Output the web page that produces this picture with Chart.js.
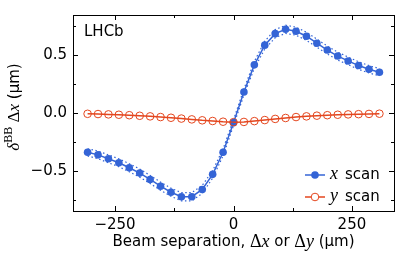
<!DOCTYPE html>
<html>
<head>
<meta charset="utf-8">
<script src="https://cdn.jsdelivr.net/npm/chart.js@4"></script>
<style>
  html, body { margin: 0; padding: 0; background: #fff; }
  #wrap { width: 407px; height: 258px; }
</style>
</head>
<body>
<div id="wrap"><canvas id="grafico" width="407" height="258"></canvas></div>
<script>
// beam separation (um)
const separacao = [-308, -286, -264, -242, -220, -198, -176, -154, -132, -110, -88, -66, -44, -22, 0,
  22, 44, 66, 88, 110, 132, 154, 176, 198, 220, 242, 264, 286, 308];

// x scan: delta^BB delta x (um)
const xScan = [-0.336, -0.358, -0.392, -0.426, -0.469, -0.515, -0.570, -0.628, -0.680, -0.719, -0.719, -0.656, -0.526, -0.336, -0.080,
  0.184, 0.418, 0.588, 0.687, 0.725, 0.708, 0.665, 0.605, 0.546, 0.494, 0.452, 0.412, 0.380, 0.355];
// dotted band around the x scan
const xScanAlto = [-0.305, -0.325, -0.358, -0.392, -0.434, -0.480, -0.535, -0.593, -0.645, -0.684, -0.684, -0.621, -0.494, -0.306, -0.055,
  0.210, 0.448, 0.622, 0.722, 0.760, 0.743, 0.700, 0.640, 0.580, 0.528, 0.485, 0.445, 0.412, 0.386];
const xScanBaixo = [-0.367, -0.391, -0.426, -0.460, -0.504, -0.550, -0.605, -0.663, -0.715, -0.754, -0.754, -0.691, -0.558, -0.366, -0.105,
  0.158, 0.388, 0.554, 0.652, 0.690, 0.673, 0.630, 0.570, 0.512, 0.460, 0.419, 0.379, 0.348, 0.324];

// y scan
const yScan = [-0.004, -0.006, -0.009, -0.012, -0.016, -0.021, -0.026, -0.032, -0.038, -0.045, -0.052, -0.060, -0.066, -0.072, -0.076,
  -0.074, -0.067, -0.058, -0.048, -0.040, -0.032, -0.026, -0.020, -0.016, -0.012, -0.009, -0.007, -0.005, -0.003];

const xTicks = [-250, 0, 250];
const xMinor = [-125, 125];
const yTicks = [-0.5, 0, 0.5];
const yMinor = [-0.75, -0.25, 0.25, 0.75];

const azul = '#3464d6';
const vermelho = '#e4461e';
const sans = '"DejaVu Sans"';
const serif = '"Liberation Serif"';

function pontos(vals) {
  return separacao.map((s, i) => ({ x: s, y: vals[i] }));
}

function fmt(v, casas) {
  return v.toFixed(casas).replace('-', '\u2212');
}

// draw a row of text pieces with different fonts, centred on (cx, cy)
function desenhaTexto(ctx, partes, cx, cy) {
  let total = 0;
  partes.forEach(p => { ctx.font = p.f; p.w = ctx.measureText(p.t).width; total += p.w; });
  let x = cx - total / 2;
  ctx.textAlign = 'left';
  ctx.textBaseline = 'middle';
  partes.forEach(p => {
    ctx.font = p.f;
    ctx.fillText(p.t, x, cy + (p.dy || 0));
    x += p.w;
  });
}

const extras = {
  id: 'extras',
  afterDraw(chart) {
    const ctx = chart.ctx;
    const a = chart.chartArea;
    const sx = chart.scales.x, sy = chart.scales.y;
    ctx.save();
    ctx.strokeStyle = '#000';
    ctx.lineWidth = 1;
    ctx.strokeRect(Math.round(a.left) + 0.5, Math.round(a.top) + 0.5,
      Math.round(a.right - a.left), Math.round(a.bottom - a.top));
    // inward ticks on all four sides
    ctx.beginPath();
    const tx = (v, len) => {
      const p = Math.round(sx.getPixelForValue(v)) + 0.5;
      ctx.moveTo(p, a.bottom); ctx.lineTo(p, a.bottom - len);
      ctx.moveTo(p, a.top); ctx.lineTo(p, a.top + len);
    };
    const ty = (v, len) => {
      const p = Math.round(sy.getPixelForValue(v)) + 0.5;
      ctx.moveTo(a.left, p); ctx.lineTo(a.left + len, p);
      ctx.moveTo(a.right, p); ctx.lineTo(a.right - len, p);
    };
    xTicks.forEach(v => tx(v, 5));
    xMinor.forEach(v => tx(v, 3));
    yTicks.forEach(v => ty(v, 5));
    yMinor.forEach(v => ty(v, 3));
    ctx.stroke();

    ctx.fillStyle = '#000';
    ctx.font = '15px ' + sans;
    ctx.textAlign = 'left';
    ctx.textBaseline = 'middle';
    ctx.fillText('LHCb', a.left + 11, a.top + 17);

    // x title
    desenhaTexto(ctx, [
      { t: 'Beam separation, ', f: '15px ' + sans },
      { t: '\u0394', f: '18px ' + serif },
      { t: 'x', f: 'italic 18px ' + serif },
      { t: ' or ', f: '15px ' + sans },
      { t: '\u0394', f: '18px ' + serif },
      { t: 'y', f: 'italic 18px ' + serif },
      { t: ' (\u03bcm)', f: '15px ' + sans }
    ], (a.left + a.right) / 2, 242);

    // y title
    ctx.save();
    ctx.translate(15, 107);
    ctx.rotate(-Math.PI / 2);
    desenhaTexto(ctx, [
      { t: '\u03b4', f: 'italic 17px ' + serif },
      { t: 'BB', f: '12px ' + serif, dy: -6 },
      { t: ' \u0394', f: '17px ' + serif },
      { t: 'x', f: 'italic 17px ' + serif },
      { t: ' (\u03bcm)', f: '15px ' + sans }
    ], 0, 0);
    ctx.restore();

    // legend
    const linhas = [
      { cor: azul, cheio: true, v: 'x', y: 175 },
      { cor: vermelho, cheio: false, v: 'y', y: 197 }
    ];
    linhas.forEach(l => {
      ctx.strokeStyle = l.cor;
      ctx.lineWidth = 1.5;
      ctx.beginPath();
      ctx.moveTo(305, l.y); ctx.lineTo(325, l.y);
      ctx.stroke();
      ctx.beginPath();
      ctx.arc(315, l.y, 3.8, 0, Math.PI * 2);
      if (l.cheio) { ctx.fillStyle = l.cor; ctx.fill(); }
      else { ctx.fillStyle = '#fff'; ctx.fill(); ctx.lineWidth = 1; ctx.stroke(); }
      ctx.fillStyle = '#000';
      ctx.textBaseline = 'middle';
      ctx.font = 'italic 18px ' + serif;
      ctx.fillText(l.v, 330, l.y - 1);
      ctx.font = '15px ' + sans;
      ctx.fillText('scan', 345, l.y);
    });
    ctx.restore();
  }
};

const ctx = document.getElementById('grafico').getContext('2d');
window.graficoInstance = new Chart(ctx, {
  type: 'line',
  data: {
    datasets: [
      {
        label: 'x scan band up',
        data: pontos(xScanAlto),
        borderColor: azul,
        borderWidth: 1.2,
        borderDash: [1.5, 2.5],
        pointRadius: 0,
        fill: false
      },
      {
        label: 'x scan band down',
        data: pontos(xScanBaixo),
        borderColor: azul,
        borderWidth: 1.2,
        borderDash: [1.5, 2.5],
        pointRadius: 0,
        fill: false
      },
      {
        label: 'y scan',
        data: pontos(yScan),
        borderColor: vermelho,
        borderWidth: 1.5,
        pointRadius: 3.8,
        pointBorderWidth: 1,
        pointBorderColor: vermelho,
        pointBackgroundColor: 'rgba(255,255,255,0)',
        fill: false
      },
      {
        label: 'x scan',
        data: pontos(xScan),
        borderColor: azul,
        borderWidth: 1.5,
        pointRadius: 3.8,
        pointBorderWidth: 0,
        pointBackgroundColor: azul,
        fill: false
      }
    ]
  },
  options: {
    responsive: false,
    animation: false,
    layout: { padding: { left: 23, right: 13, top: 13, bottom: 0 } },
    plugins: {
      legend: { display: false },
      tooltip: { enabled: false }
    },
    scales: {
      x: {
        type: 'linear',
        min: -338.8,
        max: 338.8,
        grid: { display: false, drawTicks: false },
        border: { display: false },
        afterBuildTicks: s => { s.ticks = xTicks.map(v => ({ value: v })); },
        afterFit: s => { s.height = 47; },
        ticks: {
          padding: 5,
          color: '#000',
          font: { family: 'DejaVu Sans', size: 15 },
          maxRotation: 0,
          callback: v => fmt(v, 0)
        }
      },
      y: {
        min: -0.842,
        max: 0.848,
        grid: { display: false, drawTicks: false },
        border: { display: false },
        afterBuildTicks: s => { s.ticks = yTicks.map(v => ({ value: v })); },
        afterFit: s => { s.width = 50; },
        ticks: {
          padding: 6,
          color: '#000',
          font: { family: 'DejaVu Sans', size: 15 },
          callback: v => fmt(v, 1)
        }
      }
    }
  },
  plugins: [extras]
});
</script>
</body>
</html>
